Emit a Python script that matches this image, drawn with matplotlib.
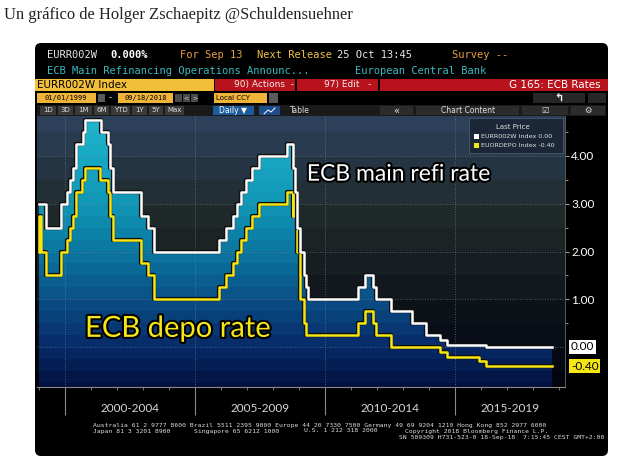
import numpy as np
import pandas as pd
import matplotlib
matplotlib.use('Agg')
import matplotlib.pyplot as plt
import matplotlib.dates as mdates
import matplotlib.patheffects as pe
import matplotlib.transforms as mtransforms
from matplotlib.patches import Rectangle, FancyBboxPatch
from matplotlib.colors import to_rgb

# ---------------- data ----------------
mro_dates = ['1999-01-01', '1999-04-09', '1999-11-05', '2000-02-04', '2000-03-17', '2000-04-28',
             '2000-06-09', '2000-09-06', '2000-10-11', '2001-05-15', '2001-08-31', '2001-09-18',
             '2001-11-09', '2002-12-06', '2003-03-07', '2003-06-06', '2005-12-06', '2006-03-08',
             '2006-06-15', '2006-08-09', '2006-10-11', '2006-12-13', '2007-03-14', '2007-06-13',
             '2008-07-09', '2008-10-15', '2008-11-12', '2008-12-10', '2009-01-21', '2009-03-11',
             '2009-04-08', '2009-05-13', '2011-04-13', '2011-07-13', '2011-11-09', '2011-12-14',
             '2012-07-11', '2013-05-08', '2013-11-13', '2014-06-11', '2014-09-10', '2016-03-16']
mro_values = [3.00, 2.50, 3.00, 3.25, 3.50, 3.75,
              4.25, 4.50, 4.75, 4.50, 4.25, 3.75,
              3.25, 2.75, 2.50, 2.00, 2.25, 2.50,
              2.75, 3.00, 3.25, 3.50, 3.75, 4.00,
              4.25, 3.75, 3.25, 2.50, 2.00, 1.50,
              1.25, 1.00, 1.25, 1.50, 1.25, 1.00,
              0.75, 0.50, 0.25, 0.15, 0.05, 0.00]

depo_dates = ['1999-01-01', '1999-01-04', '1999-01-22', '1999-04-09', '1999-11-05', '2000-02-04',
              '2000-03-17', '2000-04-28', '2000-06-09', '2000-09-01', '2000-10-06', '2001-05-11',
              '2001-08-31', '2001-09-18', '2001-11-09', '2002-12-06', '2003-03-07', '2003-06-06',
              '2005-12-06', '2006-03-08', '2006-06-15', '2006-08-09', '2006-10-11', '2006-12-13',
              '2007-03-14', '2007-06-13', '2008-07-09', '2008-10-08', '2008-10-09', '2008-11-12',
              '2008-12-10', '2009-01-21', '2009-03-11', '2009-04-08', '2011-04-13', '2011-07-13',
              '2011-11-09', '2011-12-14', '2012-07-11', '2014-06-11', '2014-09-10', '2015-12-09',
              '2016-03-16']
depo_values = [2.00, 2.75, 2.00, 1.50, 2.00, 2.25,
               2.50, 2.75, 3.25, 3.50, 3.75, 3.50,
               3.25, 2.75, 2.25, 1.75, 1.50, 1.00,
               1.25, 1.50, 1.75, 2.00, 2.25, 2.50,
               2.75, 3.00, 3.25, 2.75, 3.25, 2.75,
               2.00, 1.00, 0.50, 0.25, 0.50, 0.75,
               0.50, 0.25, 0.00, -0.10, -0.20, -0.30,
               -0.40]
last_date = '2018-09-18'

period_starts = ['2000-01-01', '2005-01-01', '2010-01-01', '2015-01-01']
period_labels = ['2000-2004', '2005-2009', '2010-2014', '2015-2019']
year_ticks = [str(y) + '-01-01' for y in range(1999, 2020)]
y_ticks = [1.0, 2.0, 3.0, 4.0]
y_minor = [0.5, 1.5, 2.5, 3.5, 4.5]

# ---------------- figure ----------------
W, H = 634, 471
fig = plt.figure(figsize=(W / 100, H / 100), dpi=100, facecolor='white')

bg = fig.add_axes([0, 0, 1, 1], zorder=0)
bg.set_xlim(0, W); bg.set_ylim(H, 0); bg.axis('off')
fg = fig.add_axes([0, 0, 1, 1], zorder=3)
fg.set_xlim(0, W); fg.set_ylim(H, 0); fg.axis('off'); fg.patch.set_alpha(0)

bg.text(4, 15, 'Un gráfico de Holger Zschaepitz @Schuldensuehner', fontsize=11.9,
        family='Liberation Serif', color='#222222', va='center', ha='left')

bg.add_patch(FancyBboxPatch((35, 43), 573, 413, boxstyle='round,pad=0,rounding_size=6',
                            facecolor='black', edgecolor='none'))

MONO = 'DejaVu Sans Mono'
# header row 1
r1 = 55
bg.text(47, r1, 'EURR002W', family=MONO, fontsize=7.5, color='#e6e6e6', va='center')
bg.text(110, r1, '0.000%', family=MONO, fontsize=7.5, color='white', weight='bold', va='center')
bg.text(180, r1, 'For Sep 13', family=MONO, fontsize=7.5, color='#e8a040', va='center')
bg.text(257, r1, 'Next Release', family=MONO, fontsize=7.5, color='#f0c040', va='center')
bg.text(337, r1, '25 Oct 13:45', family=MONO, fontsize=7.5, color='#e6e6e6', va='center')
bg.text(452, r1, 'Survey --', family=MONO, fontsize=7.5, color='#e8a040', va='center')
# header row 2
r2 = 71
bg.text(47, r2, 'ECB Main Refinancing Operations Announc...', family=MONO, fontsize=7.5,
        color='#3cb8c0', va='center')
bg.text(355, r2, 'European Central Bank', family=MONO, fontsize=7.5, color='#3cb8c0', va='center')

# header row 3
def box(x0, x1, y0, y1, color, ax=bg):
    ax.add_patch(Rectangle((x0, y0), x1 - x0, y1 - y0, facecolor=color, edgecolor='none'))

box(35, 214, 79, 91, '#f2bf3a')
bg.text(37, 85, 'EURR002W Index', fontsize=7.5, color='black', va='center')
box(215, 295, 79, 91, '#b8121c')
bg.text(234, 85, '90) Actions  -', fontsize=6.5, color='#f0f0f0', va='center')
box(297, 378, 79, 91, '#b8121c')
bg.text(324, 85, '97) Edit   -', fontsize=6.5, color='#f0f0f0', va='center')
box(380, 608, 79, 91, '#b8121c')
bg.text(601, 85, 'G 165: ECB Rates', fontsize=7.5, color='white', va='center', ha='right')

# header row 4
r4a, r4b = 93, 103
box(37, 96, r4a, r4b, '#f0b43a')
bg.text(66, 98, '01/01/1999', family=MONO, fontsize=5, color='black', va='center', ha='center')
box(98, 105, r4a + 1, r4b - 1, '#5a5a5a')
bg.text(110, 98, '-', fontsize=6, color='white', va='center', ha='center')
box(118, 173, r4a, r4b, '#f0b43a')
bg.text(146, 98, '09/18/2018', family=MONO, fontsize=5, color='black', va='center', ha='center')
for xa, s in [(175, ''), (183, '<'), (191, '>')]:
    box(xa, xa + 7, r4a + 1, r4b - 1, '#4a4a4a')
    bg.text(xa + 3.5, 98, s, fontsize=4.5, color='#dddddd', va='center', ha='center')
box(214, 267, r4a, r4b, '#f0b43a')
bg.text(216, 98, 'Local CCY', fontsize=5, color='black', va='center')
box(269, 278, r4a, r4b, '#5a5a5a')
box(533, 585, r4a, r4b, '#262626')
bg.text(559, 98, '↰', fontsize=8, color='white', va='center', ha='center', weight='bold')
box(588, 606, r4a, r4b, '#262626')

# header row 5
r5a, r5b = 105, 116
box(37, 606, r5a, r5b, '#1a1a1a')
for s, xa, xb in [('1D', 40, 56), ('3D', 58, 73), ('1M', 75, 92), ('6M', 94, 109), ('YTD', 111, 130),
                  ('1Y', 132, 147), ('5Y', 149, 163), ('Max', 165, 184)]:
    box(xa, xb, r5a + 1, r5b - 1, '#3a3a3a')
    bg.text((xa + xb) / 2, 110.5, s, fontsize=5, color='#dddddd', va='center', ha='center')
box(213, 254, r5a + 1, r5b - 1, '#1d5c9c')
bg.text(233, 110.5, 'Daily ▼', fontsize=5.5, color='white', va='center', ha='center')
box(259, 280, r5a + 1, r5b - 1, '#1d4c8c')
bg.plot([264, 268, 271, 275], [114, 110, 112, 108], color='white', lw=0.7)
bg.text(300, 110.5, 'Table', fontsize=5.5, color='#dddddd', va='center', ha='center')
box(380, 413, r5a + 1, r5b - 1, '#2c2c2c')
bg.text(396, 110.5, '«', fontsize=7, color='#dddddd', va='center', ha='center')
box(416, 519, r5a + 1, r5b - 1, '#2c2c2c')
bg.text(468, 110.5, 'Chart Content', fontsize=5.5, color='#dddddd', va='center', ha='center')
box(522, 568, r5a + 1, r5b - 1, '#2c2c2c')
bg.text(545, 110.5, '☑', fontsize=6, color='#dddddd', va='center', ha='center')
box(571, 605, r5a + 1, r5b - 1, '#2c2c2c')
bg.text(588, 110.5, '⚙', fontsize=6, color='#dddddd', va='center', ha='center')

# ---------------- plot axes ----------------
PX0, PX1, PY0, PY1 = 37, 565, 116, 387
ax = fig.add_axes([PX0 / W, 1 - PY1 / H, (PX1 - PX0) / W, (PY1 - PY0) / H], zorder=1)
ax.patch.set_alpha(0)

d2000 = mdates.datestr2num('2000-01-01')
d2015 = mdates.datestr2num('2015-01-01')
dpp = (d2015 - d2000) / (455 - 65)
xmin = d2000 - (65 - PX0) * dpp
xmax = d2015 + (PX1 - 455) * dpp
ppu = (347 - 156) / 4.0
ymin = -(PY1 - 347) / ppu
ymax = (347 - PY0) / ppu

def banded(stops_y, stops_c, band=0.25):
    ys = np.linspace(ymax, ymin, 800)
    yb = np.floor(ys / band) * band + band / 2
    cols = np.array([to_rgb(c) for c in stops_c])
    img = np.stack([np.interp(yb, stops_y, cols[:, k]) for k in range(3)], axis=-1)
    return img[:, None, :]

bg_img = banded([-0.84, 0.0, 1.0, 2.0, 3.0, 4.0, 4.84],
                ['#03050e', '#070b16', '#10151b', '#192123', '#212c2d', '#27384a', '#2d435b'], band=0.5)
ax.imshow(bg_img, extent=(xmin, xmax, ymin, ymax), aspect='auto', origin='upper',
          interpolation='nearest', zorder=0)

mro_x = mdates.datestr2num(mro_dates + [last_date])
mro_y = np.array(mro_values + [mro_values[-1]])
depo_x = mdates.datestr2num(depo_dates + [last_date])
depo_y = np.array(depo_values + [depo_values[-1]])

poly = ax.fill_between(mro_x, mro_y, ymin, step='post', facecolor='none', edgecolor='none')
fill_img = banded([-0.84, 0.0, 1.0, 2.0, 3.0, 4.0, 4.84],
                  ['#04103c', '#072a68', '#0a4f86', '#0b77a0', '#1096b6', '#18a9c3', '#22b6cd'], band=0.25)
im = ax.imshow(fill_img, extent=(xmin, xmax, ymin, ymax), aspect='auto', origin='upper',
               interpolation='nearest', zorder=1)
im.set_clip_path(poly.get_paths()[0], ax.transData)

# grid
for d in period_starts:
    ax.axvline(mdates.datestr2num(d), color='#7a8a9a', lw=0.6, ls=(0, (1, 2)), zorder=2, alpha=0.8)
for yv in [0.0] + y_ticks:
    ax.axhline(yv, color='#7a8a9a', lw=0.6, ls=(0, (1, 2)), zorder=2, alpha=0.8)

ax.step(depo_x, depo_y, where='post', color='#f6e614', lw=1.8, zorder=4,
        path_effects=[pe.Stroke(linewidth=3.0, foreground='#101010'), pe.Normal()])
ax.step(mro_x, mro_y, where='post', color='white', lw=1.8, zorder=5,
        path_effects=[pe.Stroke(linewidth=3.0, foreground='#101010'), pe.Normal()])

ax.set_xlim(xmin, xmax)
ax.set_ylim(ymin, ymax)

# axes styling
for s in ['left', 'top']:
    ax.spines[s].set_visible(False)
ax.spines['bottom'].set_color('#8a8a8a')
ax.spines['right'].set_color('#6a6a6a')
ax.spines['bottom'].set_linewidth(0.8)
ax.spines['right'].set_linewidth(0.6)
ax.yaxis.tick_right()
ax.set_yticks(y_ticks)
ax.set_yticklabels(['%.2f' % v for v in y_ticks])
ax.set_yticks(y_minor, minor=True)
ax.tick_params(axis='y', which='major', length=3, width=0.7, color='#aaaaaa', pad=1.5,
               labelcolor='white', labelsize=8.5)
ax.tick_params(axis='y', which='minor', length=2, width=0.6, color='#aaaaaa')
for lab in ax.get_yticklabels():
    lab.set_family('Lato')
ax.set_xticks(mdates.datestr2num(period_starts))
ax.set_xticklabels([])
ax.set_xticks(mdates.datestr2num(year_ticks), minor=True)
ax.tick_params(axis='x', which='major', length=20, width=0.8, color='#8a8a8a', direction='out')
ax.tick_params(axis='x', which='minor', length=2.5, width=0.6, color='#8a8a8a', direction='out')

blend = mtransforms.blended_transform_factory(ax.transData, ax.transAxes)
bounds = list(mdates.datestr2num(period_starts)) + [xmax]
for i, lab in enumerate(period_labels):
    ax.text((bounds[i] + bounds[i + 1]) / 2, -(409 - PY1) / (PY1 - PY0), lab, transform=blend,
            ha='center', va='center', color='#d8d8d8', fontsize=8.5, family='Lato', clip_on=False)

# last value labels on right axis
blend_y = mtransforms.blended_transform_factory(ax.transAxes, ax.transData)
ax.text(1 + 6 / (PX1 - PX0), mro_values[-1], '%.2f' % mro_values[-1], transform=blend_y,
        ha='left', va='center', color='black', fontsize=8.5, family='Lato', clip_on=False,
        bbox=dict(boxstyle='square,pad=0.15', facecolor='white', edgecolor='none'))
ax.text(1 + 6 / (PX1 - PX0), depo_values[-1], '%.2f' % depo_values[-1], transform=blend_y,
        ha='left', va='center', color='black', fontsize=8.5, family='Lato', clip_on=False,
        bbox=dict(boxstyle='square,pad=0.15', facecolor='#f6e614', edgecolor='none'))

# series annotations
ax.text(mdates.datestr2num('2009-04-20'), 3.62, 'ECB main refi rate', color='white', fontsize=16.5,
        family='Lato', ha='left', va='center', zorder=6,
        path_effects=[pe.Stroke(linewidth=3, foreground='black'), pe.Normal()])
ax.text(mdates.datestr2num('2000-10-08'), 0.38, 'ECB depo rate', color='#f6e614', fontsize=21,
        family='Lato', ha='left', va='center', zorder=6,
        path_effects=[pe.Stroke(linewidth=3, foreground='black'), pe.Normal()])

# legend
fg.add_patch(Rectangle((469, 118), 94, 35, facecolor='#1b2736', edgecolor='#4a5868', lw=0.6))
fg.text(513, 127, 'Last Price', fontsize=5, color='#dddddd', ha='center', va='center')
fg.add_patch(Rectangle((474, 134), 5, 5, facecolor='white', edgecolor='none'))
fg.text(481, 136.5, 'EURR002W Index 0.00', fontsize=4.6, color='#e0e0e0', va='center')
fg.add_patch(Rectangle((474, 143), 5, 5, facecolor='#f6e614', edgecolor='none'))
fg.text(481, 145.5, 'EUORDEPO Index -0.40', fontsize=4.6, color='#e0e0e0', va='center')

# footer
FS = 4.6
fg.text(93, 425, 'Australia 61 2 9777 8600 Brazil 5511 2395 9000 Europe 44 20 7330 7500 '
        'Germany 49 69 9204 1210 Hong Kong 852 2977 6000', family=MONO, fontsize=FS,
        color='#dddddd', va='center')
fg.text(93, 431, 'Japan 81 3 3201 8900', family=MONO, fontsize=FS, color='#dddddd', va='center')
fg.text(194, 431, 'Singapore 65 6212 1000', family=MONO, fontsize=FS, color='#dddddd', va='center')
fg.text(304, 431, 'U.S. 1 212 318 2000', family=MONO, fontsize=FS, color='#dddddd', va='center')
fg.text(405, 431, 'Copyright 2018 Bloomberg Finance L.P.', family=MONO, fontsize=FS,
        color='#dddddd', va='center')
fg.text(604, 437, 'SN 509309 H731-523-0 18-Sep-18  7:15:45 CEST GMT+2:00', family=MONO,
        fontsize=FS, color='#dddddd', va='center', ha='right')

fig.savefig('out.png', dpi=100, facecolor='white')
